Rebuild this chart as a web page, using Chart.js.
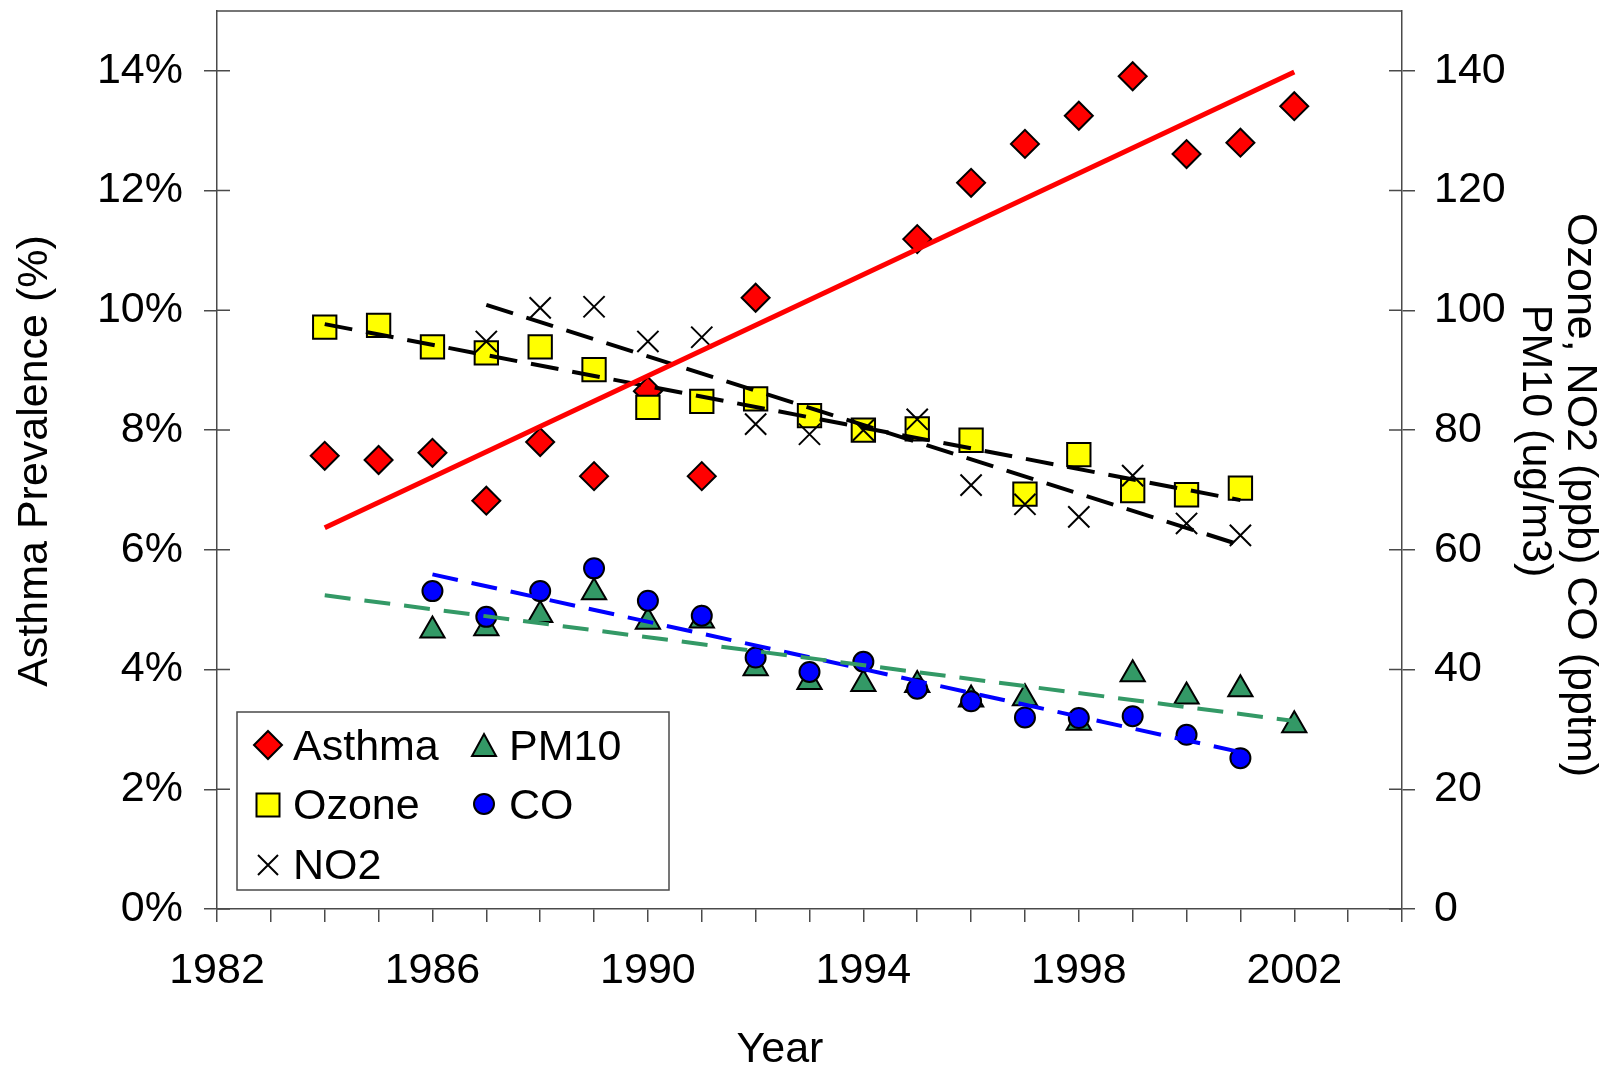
<!DOCTYPE html>
<html lang="en">
<head>
  <meta charset="UTF-8">
  <title>Asthma Prevalence vs Air Pollutants</title>
  <script src="https://cdn.jsdelivr.net/npm/chart.js@4"></script>
  <style>
    html, body { margin: 0; padding: 0; background: #fff; }
    #wrap { width: 1608px; height: 1067px; position: relative; }
  </style>
</head>
<body>
<div id="wrap"><canvas id="chart" width="1608" height="1067"></canvas></div>
<script>
  // values
  const years = [1984, 1985, 1986, 1987, 1988, 1989, 1990, 1991, 1992, 1993,
                 1994, 1995, 1996, 1997, 1998, 1999, 2000, 2001, 2002];
  const asthma = [7.57, 7.50, 7.62, 6.82, 7.80, 7.23, 8.65, 7.23, 10.21, null,
                  null, 11.19, 12.13, 12.78, 13.25, 13.91, 12.61, 12.80, 13.41];
  const ozone = [97.2, 97.5, 93.9, 92.9, 93.9, 90.1, 83.8, 84.8, 85.2, 82.4,
                 80.0, 80.2, 78.3, 69.3, 75.9, 69.9, 69.2, 70.3, null];
  const no2 = [null, null, null, 94.8, 100.4, 100.6, 94.8, 95.5, 81.0, 79.3,
               80.0, 81.8, 70.8, 67.6, 65.5, 72.4, 64.4, 62.4, null];
  const pm10 = [null, null, 46.5, 46.9, 49.1, 52.9, 48.0, 48.2, 40.2, 37.9,
                37.6, 37.4, 35.0, 35.2, 31.1, 39.2, 35.5, 36.7, 30.7];
  const co = [null, null, 53.1, 48.8, 53.1, 56.9, 51.5, 49.0, 42.0, 39.6,
              41.3, 36.8, 34.7, 32.0, 31.9, 32.2, 29.1, 25.2, null];

  // trend line end points
  const asthmaTrendX = [1984, 2002], asthmaTrendY = [6.37, 13.98];
  const ozoneTrendX = [1984, 2001], ozoneTrendY = [97.7, 68.3];
  const no2TrendX = [1987, 2001], no2TrendY = [100.9, 60.8];
  const pm10TrendX = [1984, 2002], pm10TrendY = [52.4, 31.4];
  const coTrendX = [1986, 2001], coTrendY = [55.9, 26.2];

  const yearLabels = [1982, 1986, 1990, 1994, 1998, 2002];
  const leftTicks = [0, 2, 4, 6, 8, 10, 12, 14];
  const rightTicks = [0, 20, 40, 60, 80, 100, 120, 140];

  const FONT = '"Liberation Sans", Arial, sans-serif';
  const AXIS = '#4a4a4a';

  function pts(xs, ys) {
    const out = [];
    xs.forEach((x, i) => { if (ys[i] !== null) out.push({ x: x, y: ys[i] }); });
    return out;
  }

  function markers(label, data, axis, style, radius, fill, order) {
    return {
      label: label, data: pts(years, data), yAxisID: axis, order: order,
      showLine: false, pointStyle: style, pointRadius: radius, pointHoverRadius: radius,
      backgroundColor: fill, borderColor: '#000', pointBorderWidth: 2
    };
  }

  function trend(xs, ys, axis, color, dash) {
    return {
      data: pts(xs, ys), yAxisID: axis, order: 0, showLine: true,
      borderColor: color, borderWidth: dash ? 4 : 5, borderDash: dash || [],
      pointRadius: 0, fill: false
    };
  }

  // draws a legend symbol like the chart markers
  function drawSymbol(ctx, kind, x, y, fill) {
    ctx.save();
    ctx.lineWidth = 2;
    ctx.strokeStyle = '#000';
    ctx.fillStyle = fill;
    ctx.beginPath();
    if (kind === 'diamond') {
      ctx.moveTo(x, y - 14); ctx.lineTo(x + 14, y); ctx.lineTo(x, y + 14); ctx.lineTo(x - 14, y);
      ctx.closePath(); ctx.fill(); ctx.stroke();
    } else if (kind === 'square') {
      ctx.rect(x - 11.5, y - 11.5, 23, 23); ctx.fill(); ctx.stroke();
    } else if (kind === 'triangle') {
      ctx.moveTo(x, y - 12); ctx.lineTo(x + 12, y + 10); ctx.lineTo(x - 12, y + 10);
      ctx.closePath(); ctx.fill(); ctx.stroke();
    } else if (kind === 'circle') {
      ctx.arc(x, y, 10, 0, Math.PI * 2); ctx.fill(); ctx.stroke();
    } else if (kind === 'cross') {
      ctx.moveTo(x - 10, y - 10); ctx.lineTo(x + 10, y + 10);
      ctx.moveTo(x + 10, y - 10); ctx.lineTo(x - 10, y + 10); ctx.stroke();
    }
    ctx.restore();
  }

  const decorations = {
    id: 'decorations',
    beforeDatasetsDraw(chart) {
      const ctx = chart.ctx, a = chart.chartArea;
      ctx.save();
      ctx.strokeStyle = AXIS;
      ctx.lineWidth = 1.5;
      // top border of the plot box
      ctx.beginPath();
      ctx.moveTo(a.left, a.top); ctx.lineTo(a.right, a.top);
      // inner halves of the y tick marks
      const yl = chart.scales.y, yr = chart.scales.y2;
      leftTicks.forEach(v => {
        const py = yl.getPixelForValue(v);
        ctx.moveTo(a.left, py); ctx.lineTo(a.left + 13, py);
      });
      rightTicks.forEach(v => {
        const py = yr.getPixelForValue(v);
        ctx.moveTo(a.right, py); ctx.lineTo(a.right - 13, py);
      });
      ctx.stroke();
      ctx.restore();
    },
    afterDraw(chart) {
      const ctx = chart.ctx;
      ctx.save();
      ctx.fillStyle = '#000';
      ctx.font = '43px ' + FONT;

      // axis titles
      ctx.textAlign = 'center';
      ctx.textBaseline = 'middle';
      ctx.save();
      ctx.translate(35, 461); ctx.rotate(-Math.PI / 2);
      ctx.fillText('Asthma Prevalence (%)', 0, 0);
      ctx.restore();
      ctx.save();
      ctx.translate(1580, 495); ctx.rotate(Math.PI / 2);
      ctx.fillText('Ozone, NO2 (ppb) CO (pptm)', 0, 0);
      ctx.restore();
      ctx.save();
      ctx.translate(1535, 441); ctx.rotate(Math.PI / 2);
      ctx.fillText('PM10 (ug/m3)', 0, 0);
      ctx.restore();
      ctx.textBaseline = 'alphabetic';
      ctx.fillText('Year', 780, 1062);

      // legend box
      ctx.fillStyle = '#fff';
      ctx.fillRect(237, 712, 432, 178);
      ctx.strokeStyle = AXIS;
      ctx.lineWidth = 1.5;
      ctx.strokeRect(237, 712, 432, 178);
      const items = [
        ['Asthma', 'diamond', '#ff0000', 268, 745, 293, 760],
        ['Ozone', 'square', '#ffff00', 268, 805, 293, 819],
        ['NO2', 'cross', '#000', 268, 865, 293, 879],
        ['PM10', 'triangle', '#339966', 484, 746, 509, 760],
        ['CO', 'circle', '#0000ff', 484, 804, 509, 819]
      ];
      ctx.textAlign = 'left';
      items.forEach(it => {
        drawSymbol(ctx, it[1], it[3], it[4], it[2]);
        ctx.fillStyle = '#000';
        ctx.fillText(it[0], it[5], it[6]);
      });
      ctx.restore();
    }
  };

  const tickFont = { size: 43, family: FONT };

  function noPad(s) {
    s.paddingTop = 0; s.paddingBottom = 0; s.paddingLeft = 0; s.paddingRight = 0;
  }

  new Chart(document.getElementById('chart'), {
    type: 'scatter',
    data: {
      datasets: [
        trend(asthmaTrendX, asthmaTrendY, 'y', '#ff0000', null),
        trend(ozoneTrendX, ozoneTrendY, 'y2', '#000000', [28, 14]),
        trend(no2TrendX, no2TrendY, 'y2', '#000000', [28, 14]),
        trend(pm10TrendX, pm10TrendY, 'y2', '#339966', [26, 14]),
        trend(coTrendX, coTrendY, 'y2', '#0000ff', [26, 14]),
        markers('Asthma', asthma, 'y', 'rectRot', 14, '#ff0000', 5),
        markers('Ozone', ozone, 'y2', 'rect', 16.5, '#ffff00', 4),
        markers('NO2', no2, 'y2', 'crossRot', 15, '#000000', 3),
        markers('PM10', pm10, 'y2', 'triangle', 14, '#339966', 2),
        markers('CO', co, 'y2', 'circle', 10, '#0000ff', 1)
      ]
    },
    options: {
      responsive: false,
      animation: false,
      devicePixelRatio: 1,
      layout: { autoPadding: false, padding: { top: 11, left: 0, right: 0, bottom: 0 } },
      plugins: { legend: { display: false }, tooltip: { enabled: false } },
      scales: {
        x: {
          type: 'linear', position: 'bottom', min: 1982, max: 2004,
          ticks: {
            stepSize: 1, maxTicksLimit: 100, autoSkip: false, maxRotation: 0, minRotation: 0,
            padding: 23, color: '#000', font: tickFont,
            callback: v => yearLabels.includes(v) ? String(v) : ''
          },
          grid: { drawOnChartArea: false, tickLength: 13, color: AXIS, lineWidth: 1.5 },
          border: { color: AXIS, width: 1.5 },
          afterFit: s => { s.height = 158; noPad(s); }
        },
        y: {
          position: 'left', min: 0, max: 15,
          ticks: { stepSize: 2, padding: 21, color: '#000', font: tickFont, callback: v => v + '%' },
          grid: { drawOnChartArea: false, tickLength: 13, color: AXIS, lineWidth: 1.5 },
          border: { color: AXIS, width: 1.5 },
          afterBuildTicks: s => { s.ticks = leftTicks.map(v => ({ value: v })); },
          afterFit: s => { s.width = 217; noPad(s); }
        },
        y2: {
          position: 'right', min: 0, max: 150,
          ticks: { stepSize: 20, padding: 19, color: '#000', font: tickFont },
          grid: { drawOnChartArea: false, tickLength: 13, color: AXIS, lineWidth: 1.5 },
          border: { color: AXIS, width: 1.5 },
          afterBuildTicks: s => { s.ticks = rightTicks.map(v => ({ value: v })); },
          afterFit: s => { s.width = 206; noPad(s); }
        }
      }
    },
    plugins: [decorations]
  });
</script>
</body>
</html>
